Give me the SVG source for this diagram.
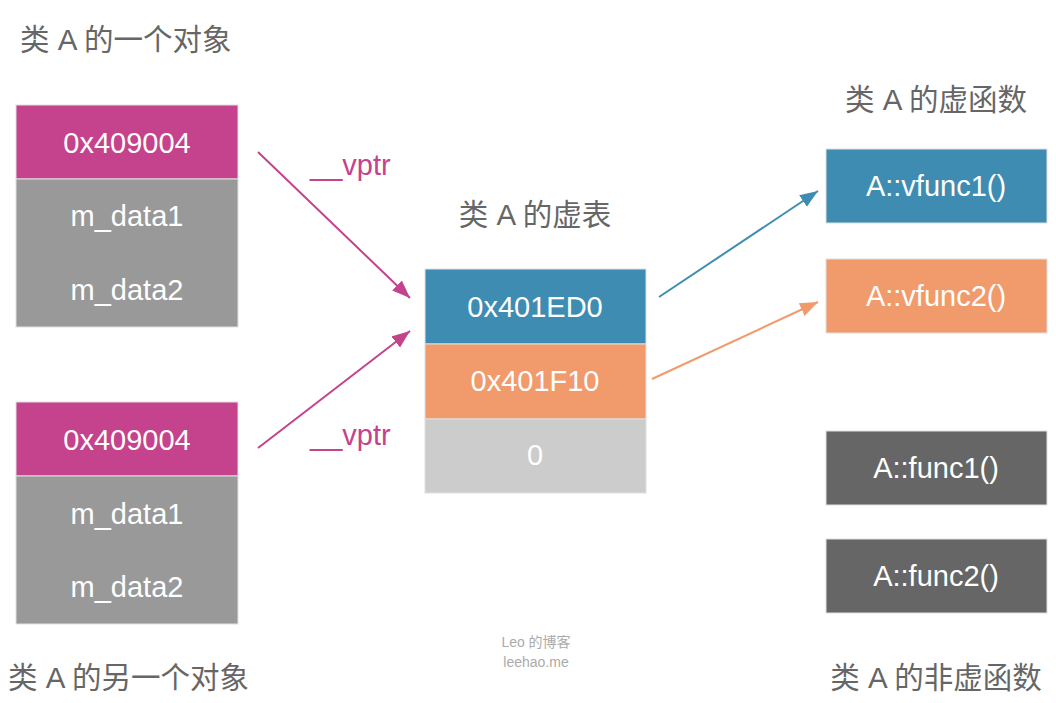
<svg xmlns="http://www.w3.org/2000/svg" width="1056" height="703" viewBox="0 0 1056 703">
<style>
.t{font-family:"Liberation Sans","Noto Sans CJK SC",sans-serif;font-size:29px;fill:#fff;text-anchor:middle}
.h{font-family:"Liberation Sans","Noto Sans CJK SC",sans-serif;font-size:29.5px;fill:#666}
.v{font-family:"Liberation Sans",sans-serif;font-size:29px;fill:#c5428d}
.w{font-family:"Liberation Sans","Noto Sans CJK SC",sans-serif;font-size:14px;fill:#aaa;text-anchor:middle}
.b{stroke:#e0e0e0;stroke-width:1}
</style>
<defs>
<marker id="mp" markerUnits="userSpaceOnUse" markerWidth="20" markerHeight="16" refX="18" refY="7" orient="auto"><path d="M0,0 L18,7 L0,14 Z" fill="#c5428d"/></marker>
<marker id="mb" markerUnits="userSpaceOnUse" markerWidth="20" markerHeight="16" refX="18" refY="7" orient="auto"><path d="M0,0 L18,7 L0,14 Z" fill="#3f8cb2"/></marker>
<marker id="mo" markerUnits="userSpaceOnUse" markerWidth="20" markerHeight="16" refX="18" refY="7" orient="auto"><path d="M0,0 L18,7 L0,14 Z" fill="#f19a6b"/></marker>
</defs>
<rect width="1056" height="703" fill="#fff"/>
<text class="h" x="20" y="50">类 A 的一个对象</text>
<text class="h" x="8" y="688">类 A 的另一个对象</text>
<text class="h" x="535" y="225" text-anchor="middle">类 A 的虚表</text>
<text class="h" x="936" y="110" text-anchor="middle">类 A 的虚函数</text>
<text class="h" x="936" y="688" text-anchor="middle">类 A 的非虚函数</text>
<g id="obj1">
<rect class="b" x="16" y="105" width="222" height="74" fill="#c5428d"/>
<rect class="b" x="16" y="179" width="222" height="148" fill="#999"/>
<text class="t" x="127" y="153">0x409004</text>
<text class="t" x="127" y="226">m_data1</text>
<text class="t" x="127" y="300">m_data2</text>
</g>
<g id="obj2">
<rect class="b" x="16" y="402" width="222" height="74" fill="#c5428d"/>
<rect class="b" x="16" y="476" width="222" height="148" fill="#999"/>
<text class="t" x="127" y="450">0x409004</text>
<text class="t" x="127" y="524">m_data1</text>
<text class="t" x="127" y="597">m_data2</text>
</g>
<g id="vtable">
<rect class="b" x="425" y="269" width="221" height="75" fill="#3f8cb2"/>
<rect class="b" x="425" y="344" width="221" height="75" fill="#f19a6b"/>
<rect class="b" x="425" y="419" width="221" height="74" fill="#ccc"/>
<text class="t" x="535" y="317">0x401ED0</text>
<text class="t" x="535" y="391">0x401F10</text>
<text class="t" x="535" y="465">0</text>
</g>
<g id="vfunc1"><rect class="b" x="826" y="149" width="221" height="74" fill="#3f8cb2"/><text class="t" x="936" y="196">A::vfunc1()</text></g>
<g id="vfunc2"><rect class="b" x="826" y="259" width="221" height="74" fill="#f19a6b"/><text class="t" x="936" y="306">A::vfunc2()</text></g>
<g id="func1"><rect class="b" x="826" y="431" width="221" height="74" fill="#666"/><text class="t" x="936" y="478">A::func1()</text></g>
<g id="func2"><rect class="b" x="826" y="539" width="221" height="74" fill="#666"/><text class="t" x="936" y="586">A::func2()</text></g>
<g id="connectors" fill="none" stroke-width="2">
<line x1="258" y1="152" x2="410" y2="298" stroke="#c5428d" marker-end="url(#mp)"/>
<line x1="258" y1="448" x2="410" y2="331" stroke="#c5428d" marker-end="url(#mp)"/>
<line x1="659" y1="297" x2="818" y2="191" stroke="#3f8cb2" marker-end="url(#mb)"/>
<line x1="652" y1="379" x2="818" y2="302" stroke="#f19a6b" marker-end="url(#mo)"/>
</g>
<text class="v" x="310" y="175">__vptr</text>
<text class="v" x="310" y="445">__vptr</text>
<text class="w" x="536" y="647">Leo 的博客</text>
<text class="w" x="536" y="667">leehao.me</text>
</svg>
